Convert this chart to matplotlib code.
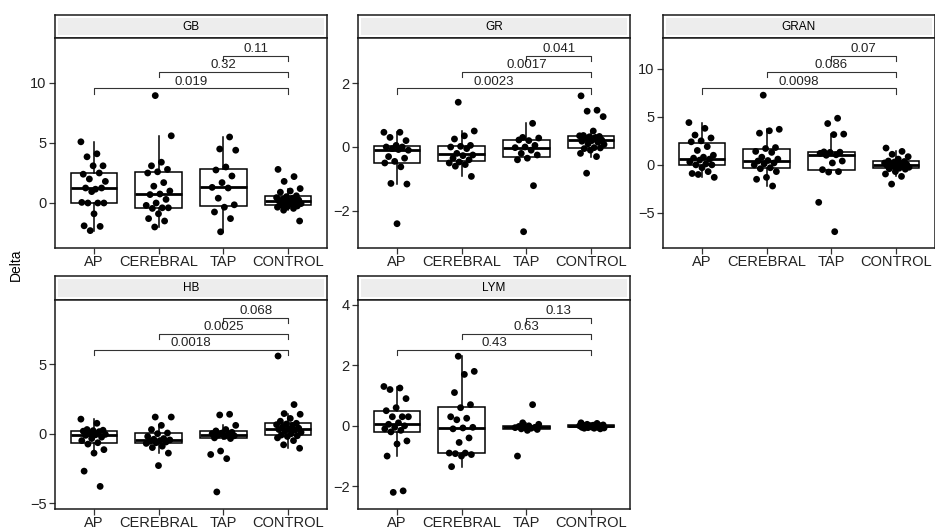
import numpy as np
import matplotlib
matplotlib.use('Agg')
import matplotlib.pyplot as plt
from matplotlib.patches import Rectangle
import matplotlib.transforms as mtransforms

plt.rcParams['font.family'] = ['Liberation Sans', 'DejaVu Sans']

groups = ['AP', 'CEREBRAL', 'TAP', 'CONTROL']

# --- data (Delta per sample) ---
gb_ap = [5.1, 4.1, 3.85, 3.1, 3.1, 2.4, 2.5, 2.0, 1.8, 1.15, 1.25, 1.25, 0.95, 0.05, 0.0, 0.0, 0.0, -0.9, -1.9, -1.95, -2.3]
gb_cer = [8.95, 5.6, 3.4, 3.1, 2.8, 2.6, 2.5, 1.7, 1.4, 1.0, 0.75, 0.7, 0.3, 0.0, -0.2, -0.4, -0.45, -0.4, -0.9, -1.3, -1.5, -2.0]
gb_tap = [5.5, 4.5, 4.4, 3.0, 2.75, 2.25, 1.7, 1.3, 1.25, 0.4, -0.15, -0.35, -0.75, -1.3, -2.4]
gb_con = [2.8, 2.2, 1.8, 1.2, 1.0, 0.9, 0.6, 0.53, 0.45, 0.4, 0.3, 0.25, 0.2, 0.17, 0.1, 0.0, -0.05, -0.1, -0.17, -0.25, -0.3, -0.35, -0.45, -0.6, -1.5]

gr_ap = [0.46, 0.46, 0.3, 0.2, 0.05, 0.0, 0.0, -0.05, -0.1, -0.08, -0.3, -0.35, -0.45, -0.5, -0.62, -1.14, -1.16, -2.4]
gr_cer = [1.4, 0.5, 0.35, 0.25, 0.05, 0.02, 0.0, -0.05, -0.2, -0.25, -0.27, -0.35, -0.4, -0.47, -0.5, -0.55, -0.6, -0.92]
gr_tap = [0.74, 0.3, 0.28, 0.2, 0.22, 0.05, 0.0, -0.02, -0.1, -0.2, -0.25, -0.35, -0.4, -1.21, -2.65]
gr_con = [1.6, 1.15, 1.12, 0.95, 0.5, 0.36, 0.33, 0.32, 0.35, 0.3, 0.28, 0.22, 0.2, 0.18, 0.15, 0.1, 0.08, -0.02, -0.05, -0.03, -0.1, -0.2, -0.3, -0.82]

gran_ap = [4.4, 3.8, 3.1, 2.8, 2.5, 2.4, 1.9, 1.5, 1.0, 0.8, 0.7, 0.6, 0.5, 0.3, 0.1, 0.0, 0.0, -0.3, -0.9, -0.7, -1.0, -1.3]
gran_cer = [7.25, 3.7, 3.55, 3.3, 1.8, 1.7, 1.4, 1.3, 0.8, 0.6, 0.45, 0.4, 0.2, 0.1, 0.0, -0.3, -0.4, -0.7, -1.3, -1.5, -2.2]
gran_tap = [4.85, 4.3, 3.2, 3.15, 1.35, 1.32, 1.3, 1.2, 1.05, 1.0, 0.4, 0.2, -0.5, -0.7, -0.75, -3.9, -6.95]
gran_con = [1.75, 1.4, 1.1, 0.85, 0.6, 0.4, 0.35, 0.3, 0.2, 0.15, 0.1, 0.05, 0.0, -0.05, -0.1, -0.15, -0.25, -0.35, -0.4, -0.45, -0.7, -0.95, -1.2, -2.0]

hb_ap = [1.05, 0.75, 0.3, 0.25, 0.22, 0.18, 0.15, 0.0, -0.05, -0.08, -0.12, -0.25, -0.35, -0.5, -0.65, -0.75, -1.15, -1.4, -2.7, -3.8]
hb_cer = [1.2, 1.2, 0.6, 0.3, 0.05, 0.0, -0.2, -0.35, -0.4, -0.45, -0.5, -0.55, -0.6, -0.65, -0.7, -0.9, -1.0, -1.4, -2.3]
hb_tap = [1.4, 1.35, 0.6, 0.3, 0.2, 0.1, 0.05, 0.0, -0.05, -0.1, -0.15, -0.2, -0.3, -0.35, -1.25, -1.5, -1.8, -4.2]
hb_con = [5.6, 2.1, 1.45, 1.4, 1.1, 0.9, 0.75, 0.7, 0.65, 0.6, 0.5, 0.4, 0.33, 0.3, 0.25, 0.2, 0.1, 0.0, -0.1, -0.15, -0.2, -0.3, -0.5, -0.8, -1.05]

lym_ap = [1.3, 1.25, 1.2, 0.9, 0.6, 0.5, 0.3, 0.3, 0.3, 0.1, 0.05, 0.0, -0.05, -0.1, -0.15, -0.2, -0.5, -0.6, -1.0, -2.15, -2.2]
lym_cer = [2.3, 1.8, 1.7, 1.1, 0.7, 0.6, 0.3, 0.25, 0.2, -0.05, -0.07, -0.1, -0.4, -0.55, -0.9, -0.9, -0.92, -0.95, -1.0, -1.35]
lym_tap = [0.7, 0.1, 0.05, 0.0, -0.02, -0.05, -0.05, -0.06, -0.08, -0.1, -0.12, -0.15, -1.0]
lym_con = [0.1, 0.08, 0.05, 0.03, 0.02, 0.02, 0.01, 0.0, 0.0, -0.01, -0.02, -0.03, -0.04, -0.05, -0.05, -0.06, -0.07, -0.08, -0.08, -0.1]

# p-values: AP vs CONTROL, CEREBRAL vs CONTROL, TAP vs CONTROL
p_gb = ['0.019', '0.32', '0.11']
p_gr = ['0.0023', '0.0017', '0.041']
p_gran = ['0.0098', '0.086', '0.07']
p_hb = ['0.0018', '0.0025', '0.068']
p_lym = ['0.43', '0.63', '0.13']

yticks_gb = [0, 5, 10]
yticks_gr = [-2, 0, 2]
yticks_gran = [-5, 0, 5, 10]
yticks_hb = [-5, 0, 5]
yticks_lym = [-2, 0, 2, 4]

panels = [
    ('GB', [gb_ap, gb_cer, gb_tap, gb_con], p_gb, yticks_gb, (-3.75, 13.75)),
    ('GR', [gr_ap, gr_cer, gr_tap, gr_con], p_gr, yticks_gr, (-3.16, 3.41)),
    ('GRAN', [gran_ap, gran_cer, gran_tap, gran_con], p_gran, yticks_gran, (-8.65, 13.2)),
    ('HB', [hb_ap, hb_cer, hb_tap, hb_con], p_hb, yticks_hb, (-5.43, 9.64)),
    ('LYM', [lym_ap, lym_cer, lym_tap, lym_con], p_lym, yticks_lym, (-2.75, 4.16)),
]

W, H = 935, 532
fig = plt.figure(figsize=(W / 100, H / 100), dpi=100)


def px_rect(l, t, r, b):
    return [l / W, 1 - b / H, (r - l) / W, (b - t) / H]


lefts = [55, 358, 663]
pw = 272
rows = [(15, 38, 248), (276, 300, 509)]
edge = '#1a1a1a'

for k, (name, data, pvals, yt, ylim) in enumerate(panels):
    r, c = divmod(k, 3)
    st, pt, pb = rows[r]
    l = lefts[c]

    # strip
    sax = fig.add_axes(px_rect(l, st, l + pw, pt))
    sax.set_xticks([]); sax.set_yticks([])
    for s in sax.spines.values():
        s.set_linewidth(1.1); s.set_color(edge)
    sax.add_patch(Rectangle((0.012, 0.14), 0.976, 0.72, transform=sax.transAxes,
                            facecolor='#EDEDED', edgecolor='none'))
    sax.text(0.5, 0.48, name, ha='center', va='center', fontsize=8.5, transform=sax.transAxes)

    ax = fig.add_axes(px_rect(l, pt, l + pw, pb))
    pos = np.arange(1, 5)
    ax.boxplot(data, positions=pos, widths=0.72, showfliers=False, showcaps=False,
               patch_artist=True,
               boxprops=dict(facecolor='white', edgecolor='black', linewidth=1.1),
               medianprops=dict(color='black', linewidth=2.0),
               whiskerprops=dict(color='black', linewidth=1.1))
    for g, vals in enumerate(data):
        n = len(vals)
        off = 0.2 * (2 * ((np.arange(n) * 0.618034 + g * 0.37) % 1.0) - 1)
        ax.scatter(pos[g] + off, vals, s=24, color='black', edgecolors='none', zorder=3)

    # comparison brackets
    trans = mtransforms.blended_transform_factory(ax.transData, ax.transAxes)
    for i, (yf, lab) in enumerate(zip([0.76, 0.838, 0.916], pvals)):
        x0, x1 = pos[i], pos[3]
        ax.plot([x0, x0, x1, x1], [yf - 0.025, yf, yf, yf - 0.025], color='#333333',
                linewidth=0.8, transform=trans, clip_on=False)
        ax.text((x0 + x1) / 2, yf + 0.004, lab, ha='center', va='bottom', fontsize=9.5,
                color='#222222', transform=trans)

    ax.set_xlim(0.4, 4.6)
    ax.set_ylim(*ylim)
    ax.set_xticks(pos)
    ax.set_xticklabels(groups)
    ax.set_yticks(yt)
    ax.tick_params(axis='both', labelsize=10.5, length=4, width=0.9, color='#333333',
                   labelcolor='#222222')
    ax.tick_params(axis='x', pad=1)
    ax.tick_params(axis='y', pad=2)
    for s in ax.spines.values():
        s.set_linewidth(1.1); s.set_color(edge)

fig.text(16 / W, 1 - 265 / H, 'Delta', rotation=90, ha='center', va='center', fontsize=10)

fig.savefig('out.png', dpi=100)
